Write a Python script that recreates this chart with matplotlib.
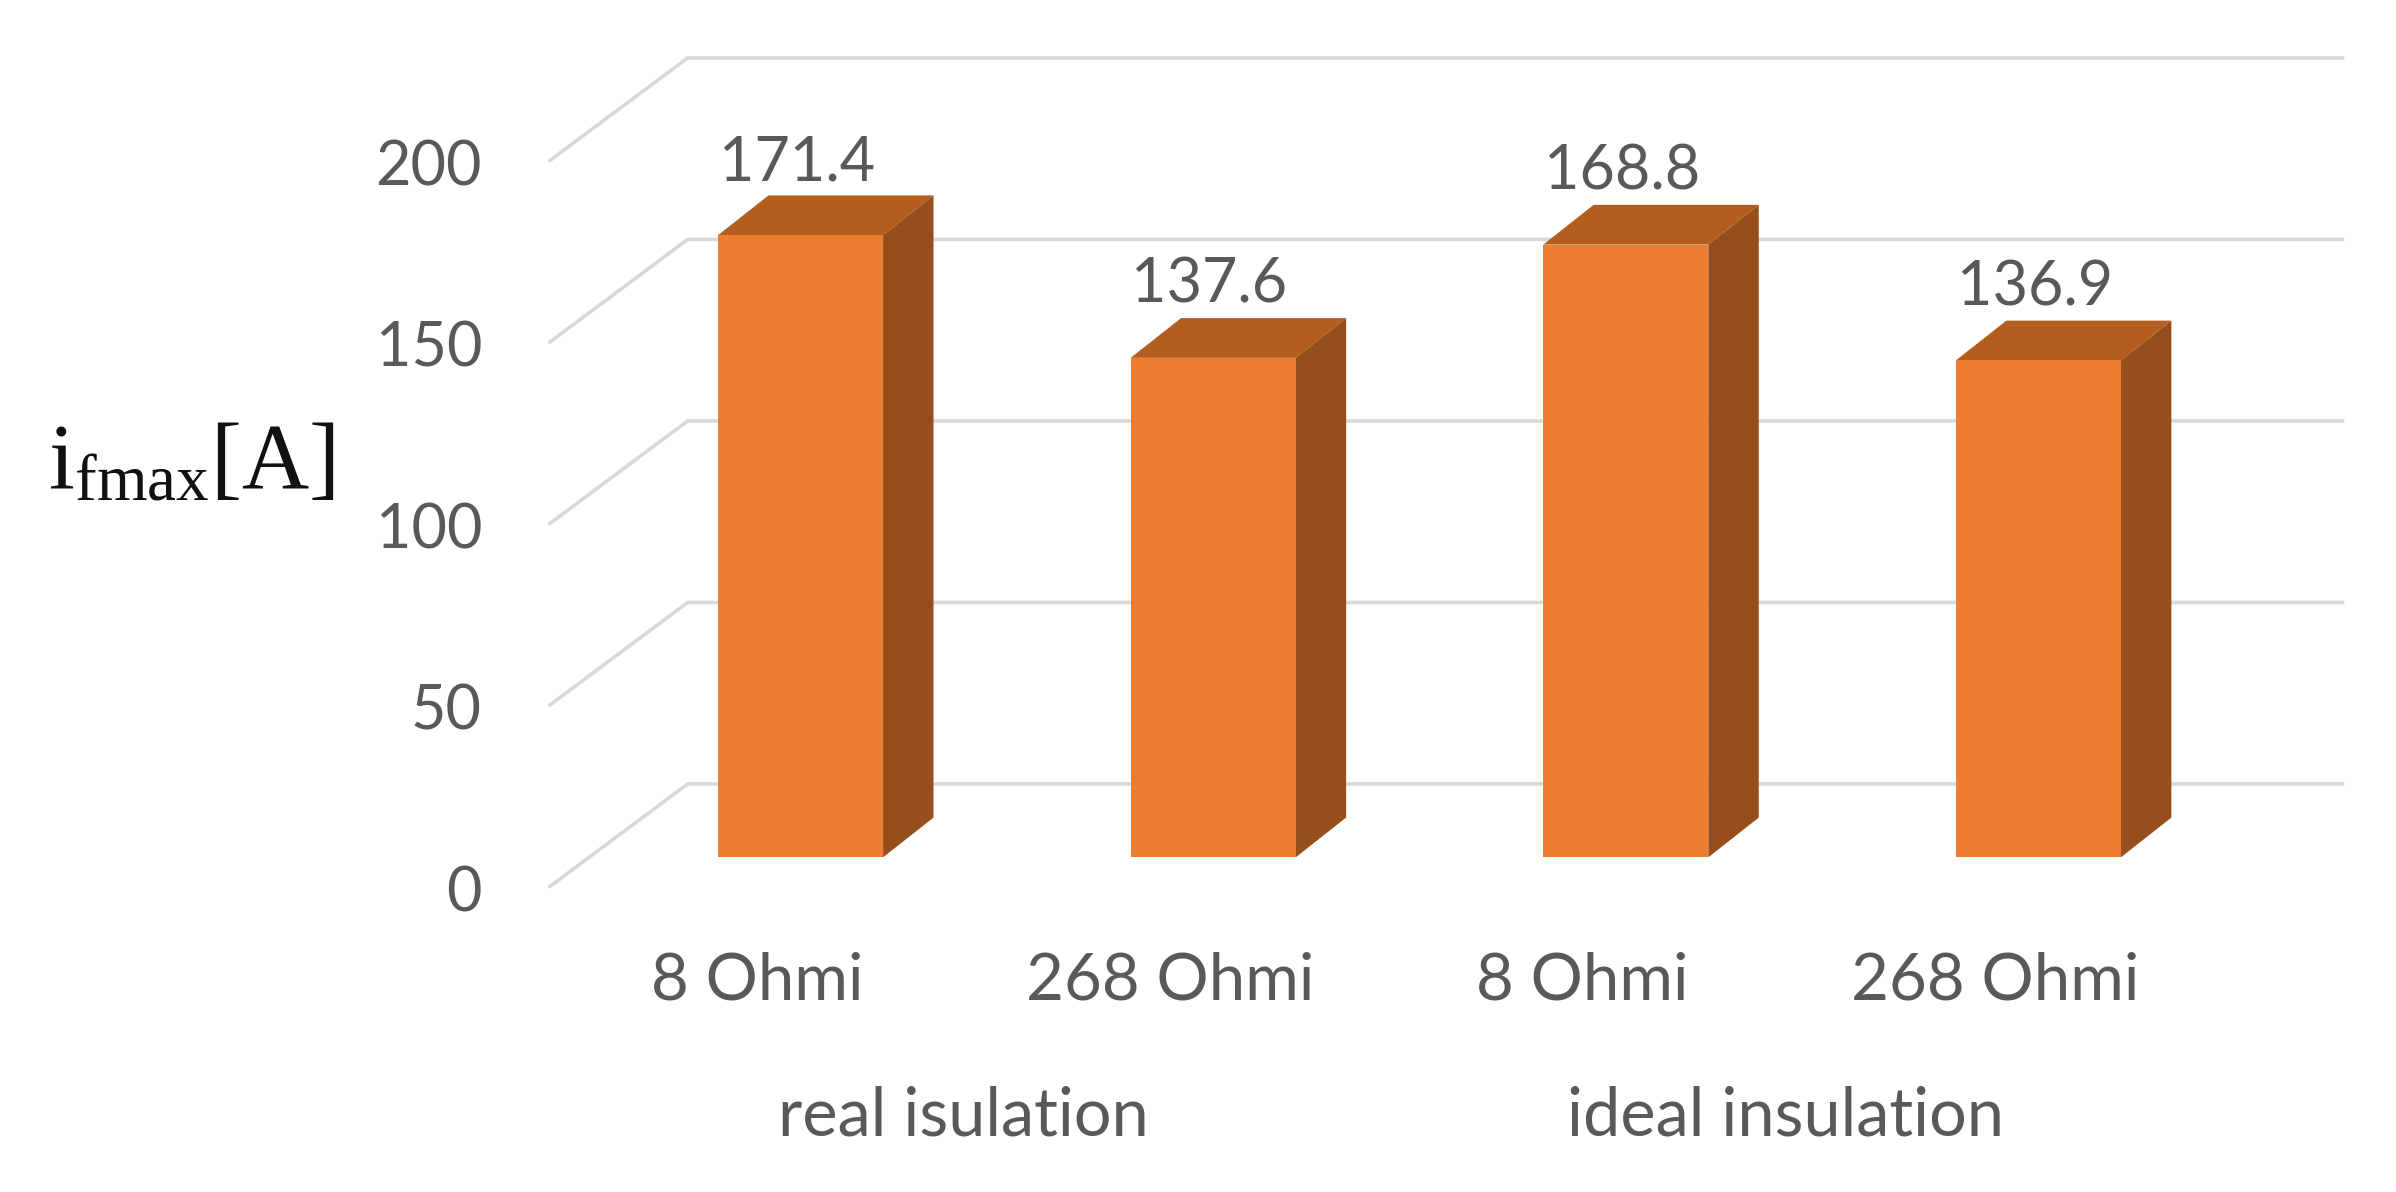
# bar chart with fake 3d look, like the excel one
import matplotlib
matplotlib.use("Agg")
import matplotlib.pyplot as plt
from matplotlib.patches import Polygon

# data
bar_labels = ["8 Ohmi", "268 Ohmi", "8 Ohmi", "268 Ohmi"]
group_labels = ["real isulation", "ideal insulation"]
group_centers = [0.395, 2.388]
values = [171.4, 137.6, 168.8, 136.9]
value_labels = ["171.4", "137.6", "168.8", "136.9"]
y_ticks = [0, 50, 100, 150, 200]

plt.rcParams["font.family"] = ["Lato", "DejaVu Sans"]
plt.rcParams["mathtext.fontset"] = "custom"
plt.rcParams["mathtext.rm"] = "Liberation Serif"
plt.rcParams["mathtext.it"] = "Liberation Serif"

FRONT = "#ED7D31"
TOP = "#B35D1F"
SIDE = "#964F1C"
GRID = "#D9D9D9"
TEXT = "#595959"

fig = plt.figure(figsize=(23.96, 11.92), dpi=100)
# axes box measured in the 1568x780 view
ax = fig.add_axes([360 / 1568, 1 - 580 / 780, (1533 - 360) / 1568, (580 - 37) / 780])
ax.set_xlim(-0.607, 3.737)
ax.set_ylim(0, 228.6)
ax.axis("off")

# depth of the floor, and of the bars, in data units
floor_dx = 90 / 270
floor_dy = 67 / 2.375
base_dy = 19 / 2.375
bar_width = 108 / 270
bar_dx = 33 / 270
bar_dy = 26 / 2.375

# gridlines: diagonal on the left wall, then along the back wall
for t in y_ticks:
    ax.plot([-0.607, -0.607 + floor_dx, 3.737], [t, t + floor_dy, t + floor_dy],
            color=GRID, lw=2.6, solid_joinstyle="miter", clip_on=False, zorder=1)
    ax.annotate(str(t), xy=(-0.607, t), xytext=(-49, -5.5), textcoords="offset points",
                ha="right", va="center", fontsize=44, color=TEXT, annotation_clip=False)

xs = list(range(len(values)))
ax.bar(xs, values, width=bar_width, bottom=base_dy, color=FRONT, zorder=3)

for x, v, lab in zip(xs, values, value_labels):
    left = x - bar_width / 2
    right = x + bar_width / 2
    top = v + base_dy
    ax.add_patch(Polygon([(left, top), (right, top), (right + bar_dx, top + bar_dy),
                          (left + bar_dx, top + bar_dy)], color=TOP, lw=0, zorder=2))
    ax.add_patch(Polygon([(right, base_dy), (right, top), (right + bar_dx, top + bar_dy),
                          (right + bar_dx, base_dy + bar_dy)], color=SIDE, lw=0, zorder=2))
    ax.text(x - 0.009, top + 20, lab, ha="center", va="center", fontsize=44, color=TEXT, zorder=4)

# category labels sit a bit left of the bars
for x, lab in zip(xs, bar_labels):
    ax.annotate(lab, xy=(x, 0), xytext=(-31, -68), textcoords="offset points",
                ha="center", va="center", fontsize=47, color=TEXT, annotation_clip=False)

for c, lab in zip(group_centers, group_labels):
    ax.annotate(lab, xy=(c, 0), xytext=(0, -166), textcoords="offset points",
                ha="center", va="center", fontsize=48, color=TEXT, annotation_clip=False)

fig.text(125 / 1568, 1 - 303 / 780, r"$\mathrm{i_{fmax}[A]}$", ha="center", va="center",
         fontsize=67, color="#111111")

plt.savefig("out.png", dpi=100, facecolor="white")
